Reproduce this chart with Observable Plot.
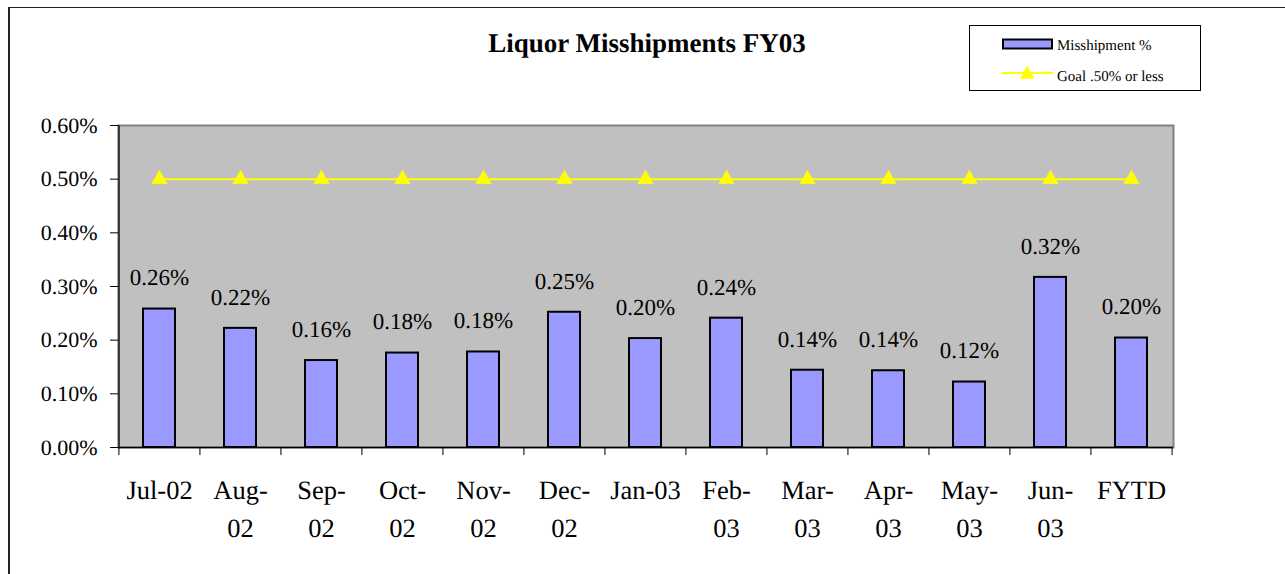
<!DOCTYPE html>
<html>
<head>
<meta charset="utf-8">
<script src="https://cdn.jsdelivr.net/npm/d3@7"></script>
<script src="https://cdn.jsdelivr.net/npm/@observablehq/plot@0.6"></script>
<style>
  html, body { margin: 0; padding: 0; background: #fff; overflow: hidden; }
  #page { position: relative; width: 1285px; height: 574px; font-family: "Liberation Serif", "Times New Roman", serif; color: #000; text-rendering: geometricPrecision; }
  #chart { position: absolute; left: 0; top: 0; }
  #chart text { font-family: "Liberation Serif", "Times New Roman", serif; font-variant: normal; font-variant-numeric: normal; text-rendering: geometricPrecision; }
  #outer { position: absolute; left: 8px; top: 7px; width: 1400px; height: 700px; border-left: 2px solid #222; border-top: 1.5px solid #222; pointer-events: none; }
  #title { position: absolute; left: 347px; width: 600px; top: 30px; text-align: center; font-size: 27px; line-height: 27px; font-weight: bold; white-space: nowrap; }
  #legend { position: absolute; left: 0; top: 0; }
</style>
</head>
<body>
<div id="page">
  <div id="chart"></div>
  <div id="outer"></div>
  <div id="title">Liquor Misshipments FY03</div>
  <svg id="legend" width="1285" height="120"></svg>
</div>
<script>
// ---- data ----
const categories = ["Jul-02","Aug-02","Sep-02","Oct-02","Nov-02","Dec-02","Jan-03","Feb-03","Mar-03","Apr-03","May-03","Jun-03","FYTD"];
const tickLabels = ["Jul-02","Aug-\n02","Sep-\n02","Oct-\n02","Nov-\n02","Dec-\n02","Jan-03","Feb-\n03","Mar-\n03","Apr-\n03","May-\n03","Jun-\n03","FYTD"];
const misshipmentPct = [0.258, 0.222, 0.162, 0.176, 0.178, 0.252, 0.203, 0.241, 0.144, 0.143, 0.122, 0.317, 0.204];
const goalPct = [0.5, 0.5, 0.5, 0.5, 0.5, 0.5, 0.5, 0.5, 0.5, 0.5, 0.5, 0.5, 0.5];
const yTicks = [0, 0.1, 0.2, 0.3, 0.4, 0.5, 0.6];
const seriesNames = ["Misshipment %", "Goal .50% or less"];

const bars = categories.map((c, i) => ({cat: c, v: misshipmentPct[i]}));
const goal = categories.map((c, i) => ({cat: c, v: goalPct[i]}));

const W = 1285, H = 574, ML = 118, MR = 112, MT = 125, MB = 127;
const step = (W - ML - MR) / categories.length;
const fmt = d => d.toFixed(2) + "%";
const serif = '"Liberation Serif", "Times New Roman", serif';

const chart = Plot.plot({
  width: W, height: H,
  marginLeft: ML, marginRight: MR, marginTop: MT, marginBottom: MB,
  style: {fontFamily: serif, background: "transparent", color: "#000", overflow: "visible"},
  x: {domain: categories, paddingInner: 0.6, paddingOuter: 0.3, label: null},
  y: {domain: [0, 0.6], label: null},
  marks: [
    Plot.frame({fill: "#C0C0C0", stroke: "#808080", strokeWidth: 2}),
    Plot.barY(bars, {x: "cat", y: "v", fill: "#9999FF", stroke: "#000", strokeWidth: 2}),
    Plot.line(goal, {x: "cat", y: "v", stroke: "#FFFF00", strokeWidth: 2}),
    Plot.dot(goal, {x: "cat", y: "v", symbol: "triangle", r: 5.8, fill: "#FFFF00", stroke: "#FFFF00", strokeWidth: 0.5}),
    Plot.text(bars, {x: "cat", y: "v", text: d => fmt(d.v), dy: -31, lineAnchor: "middle", fontSize: 23, fill: "#000", fontFamily: serif, fontVariant: "normal"}),
    Plot.ruleY([0], {stroke: "#000", strokeWidth: 1.5}),
    Plot.ruleX([categories[0]], {y1: 0, y2: 0.6, dx: -step / 2, stroke: "#333", strokeWidth: 2}),
    Plot.ruleX(categories, {y1: 0, y2: -0.015, dx: -step / 2, stroke: "#000", strokeWidth: 1}),
    Plot.ruleX([categories[categories.length - 1]], {y1: 0, y2: -0.015, dx: step / 2, stroke: "#000", strokeWidth: 1}),
    Plot.axisY({ticks: yTicks, tickFormat: fmt, tickSize: 8, tickPadding: 13, fontSize: 22, stroke: "#000", fontFamily: serif, fontVariant: "normal"}),
    Plot.axisX({tickSize: 0, tickPadding: 25, fontSize: 26.5, lineHeight: 1.43, fontFamily: serif, fontVariant: "normal",
      tickFormat: d => tickLabels[categories.indexOf(d)]})
  ]
});
document.getElementById("chart").appendChild(chart);

// ---- legend ----
const lg = d3.select("#legend");
lg.append("rect").attr("x", 969.5).attr("y", 25.5).attr("width", 231).attr("height", 65)
  .attr("fill", "#fff").attr("stroke", "#000").attr("stroke-width", 1);
lg.append("rect").attr("x", 1003).attr("y", 39.5).attr("width", 49).attr("height", 9)
  .attr("fill", "#9999FF").attr("stroke", "#000").attr("stroke-width", 2);
lg.append("line").attr("x1", 1002).attr("x2", 1053).attr("y1", 73).attr("y2", 73)
  .attr("stroke", "#FFFF00").attr("stroke-width", 2);
lg.append("path").attr("d", d3.symbol(d3.symbolTriangle, 97)()).attr("transform", "translate(1027,74.5)")
  .attr("fill", "#FFFF00");
lg.selectAll("text.lt").data(seriesNames).join("text")
  .attr("class", "lt")
  .attr("x", 1057).attr("y", (d, i) => i === 0 ? 49.5 : 81)
  .attr("font-family", serif).attr("font-size", 15).attr("fill", "#000")
  .text(d => d);
</script>
</body>
</html>
